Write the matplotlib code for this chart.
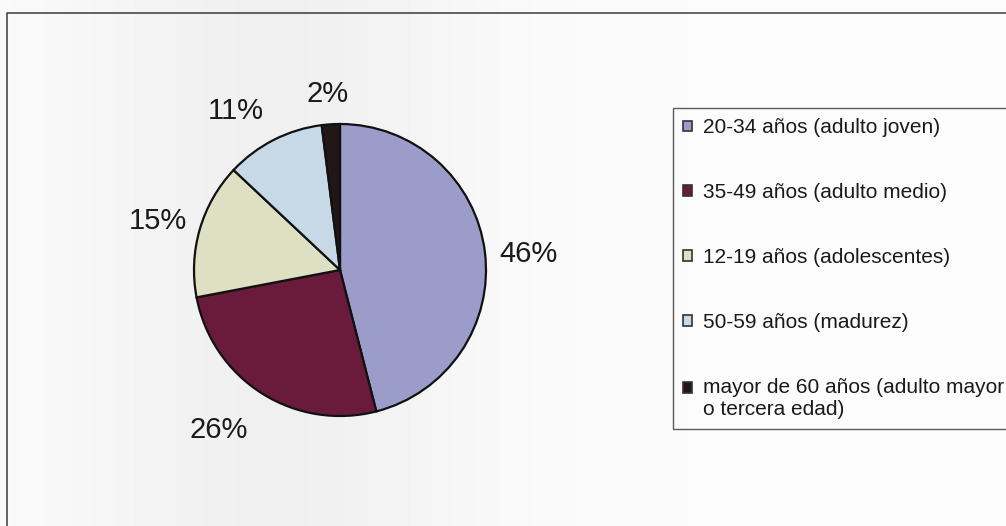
import numpy as np
import matplotlib
matplotlib.use("Agg")
import matplotlib.pyplot as plt
from matplotlib.lines import Line2D

# data
categories = ["20-34 años (adulto joven)",
              "35-49 años (adulto medio)",
              "12-19 años (adolescentes)",
              "50-59 años (madurez)",
              "mayor de 60 años (adulto mayor\no tercera edad)"]
percentages = [46, 26, 15, 11, 2]
colors = ["#9c9ccb", "#6a1b3c", "#dde0c2", "#c7d8e6", "#221616"]

# small pixel nudges so the labels sit where the scan has them (x right, y down)
label_nudge = [(0, 8), (-20, 0), (0, 4), (-18, 10), (-1, 13)]

plt.rcParams['font.family'] = ['Liberation Sans', 'DejaVu Sans']

W, H = 1006, 526
fig = plt.figure(figsize=(W / 100, H / 100), dpi=100)

# faint scanner shading behind everything
bg = fig.add_axes([0, 0, 1, 1], zorder=-10)
xs = np.linspace(0, 1, 200)
shade = 0.985 - 0.045 * np.exp(-((xs - 0.27) / 0.2) ** 2)
bg.imshow(np.tile(shade, (20, 1)), cmap="gray", vmin=0, vmax=1,
          aspect="auto", extent=[0, 1, 0, 1], interpolation="bilinear")
bg.set_xlim(0, 1)
bg.set_ylim(0, 1)
bg.axis("off")

# chart frame (only top and left edges are inside the scan)
bg.add_line(Line2D([7 / W, 7 / W, 1.0], [0.0, 1 - 13 / H, 1 - 13 / H],
                   color="#3a3a3a", lw=1.1))

# pie axes: centre at (340, 270) px, radius 146 px
cx, cy, r = 340, 270, 146
ax = fig.add_axes([(cx - r) / W, (H - cy - r) / H, 2 * r / W, 2 * r / H])
wedges, texts = ax.pie(percentages, colors=colors, startangle=90, counterclock=False,
                       labels=["{}%".format(p) for p in percentages], labeldistance=1.3,
                       wedgeprops=dict(edgecolor="#111111", linewidth=1.6),
                       textprops=dict(fontsize=21, color="#1a1a1a"))
for t, (dx, dy) in zip(texts, label_nudge):
    x, y = t.get_position()
    t.set_position((x + dx / r, y - dy / r))
    t.set_horizontalalignment("center")
ax.set_xlim(-1, 1)
ax.set_ylim(-1, 1)

leg = fig.legend(wedges, categories, loc="upper left",
                 bbox_to_anchor=(673 / W, 1 - 108 / H), bbox_transform=fig.transFigure,
                 frameon=True, fancybox=False, edgecolor="#333333",
                 borderpad=0.5, labelspacing=2.2, handlelength=0.42, handleheight=0.42,
                 handletextpad=0.5, borderaxespad=0, fontsize=15,
                 labelcolor="#1a1a1a")
leg.get_frame().set_linewidth(1.0)
leg.get_frame().set_facecolor("none")
for h in leg.legend_handles:
    h.set_edgecolor("#333333")
    h.set_linewidth(1.2)
# the two-line entry keeps its square beside the first line, as in Excel
last = leg.legend_handles[-1]
last.set_y(last.get_y() + 8)

fig.savefig("out.png", dpi=100)
